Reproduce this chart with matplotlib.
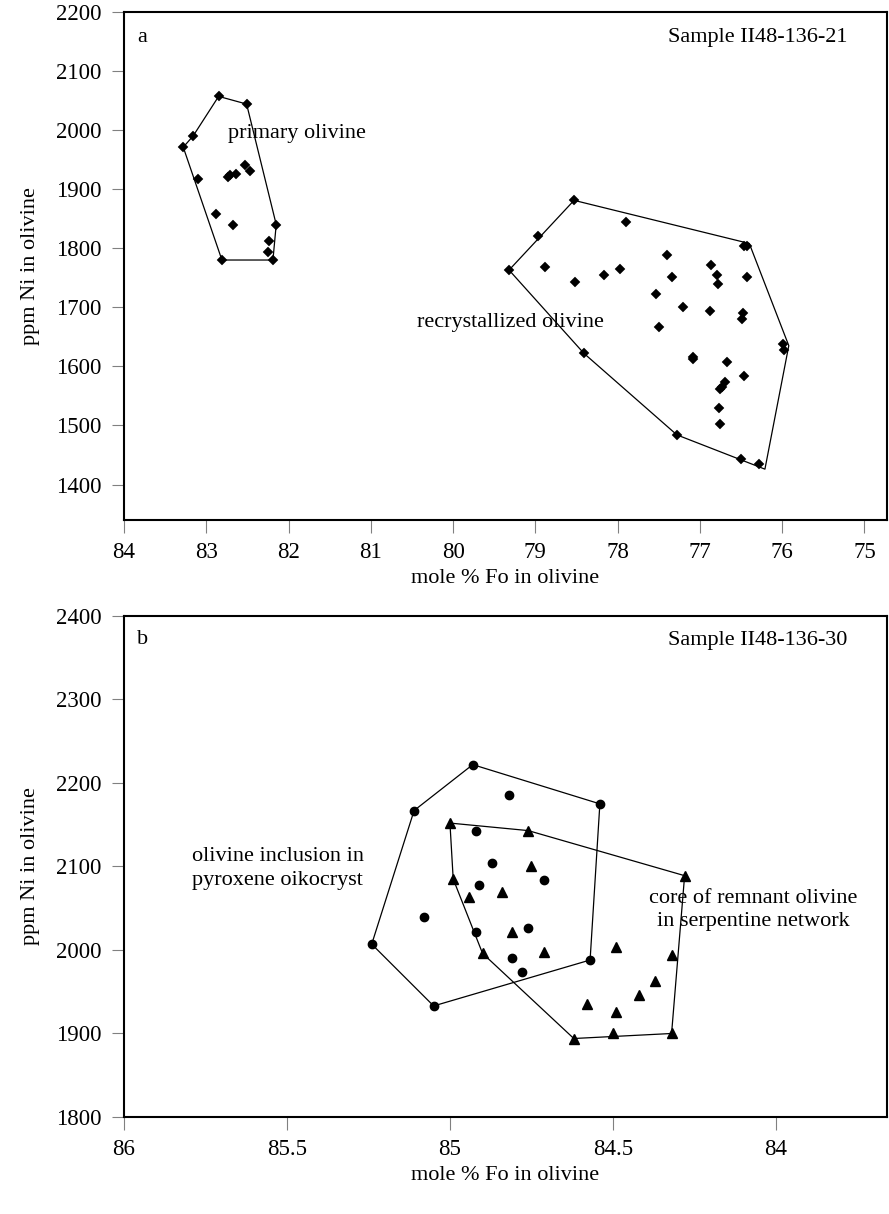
import matplotlib.pyplot as plt
from matplotlib.ticker import FuncFormatter

plt.rcParams['font.family'] = ['Liberation Serif', 'DejaVu Serif']
plt.rcParams['font.size'] = 16

### Panel a: Sample II48-136-21 ###
primary_fo = [82.85, 82.51, 83.16, 83.28, 83.10, 82.74, 82.71, 82.64, 82.53, 82.47,
              82.88, 82.68, 82.15, 82.24, 82.25, 82.19, 82.81]
primary_ni = [2057, 2044, 1990, 1971, 1917, 1920, 1924, 1925, 1941, 1931,
              1858, 1840, 1840, 1812, 1794, 1780, 1780]

recryst_fo = [78.53, 77.90, 78.97, 79.32, 78.88, 78.52, 78.16, 77.97, 77.40, 77.34,
              77.54, 77.20, 76.47, 76.43, 76.87, 76.79, 76.78, 76.43, 76.88, 76.48,
              76.49, 77.50, 78.41, 77.28, 75.99, 75.98, 77.09, 77.08, 76.67, 76.46,
              76.69, 76.76, 76.73, 76.77, 76.76, 76.50, 76.28]
recryst_ni = [1881, 1845, 1820, 1763, 1769, 1743, 1754, 1764, 1789, 1751,
              1722, 1701, 1803, 1804, 1772, 1755, 1739, 1751, 1694, 1690,
              1680, 1667, 1622, 1484, 1637, 1628, 1615, 1612, 1607, 1583,
              1574, 1561, 1565, 1529, 1503, 1444, 1434]

# outlines drawn round each group (as in the original figure)
primary_hull_fo = [82.85, 82.51, 82.15, 82.19, 82.81, 83.28, 83.16]
primary_hull_ni = [2057, 2044, 1840, 1780, 1780, 1971, 1990]
recryst_hull_fo = [79.32, 78.53, 76.40, 75.92, 76.21, 77.28, 78.41]
recryst_hull_ni = [1763, 1881, 1808, 1635, 1426, 1484, 1622]

### Panel b: Sample II48-136-30 ###
incl_fo = [84.93, 84.82, 85.11, 84.54, 84.92, 84.87, 84.71, 84.91, 85.08, 84.92,
           84.76, 84.81, 84.57, 84.78, 85.24, 85.05]
incl_ni = [2222, 2186, 2167, 2175, 2143, 2104, 2084, 2078, 2039, 2022,
           2026, 1991, 1988, 1974, 2007, 1933]

core_fo = [85.00, 84.76, 84.75, 84.99, 84.84, 84.94, 84.81, 84.90, 84.71, 84.49,
           84.32, 84.37, 84.42, 84.58, 84.49, 84.50, 84.32, 84.62, 84.28]
core_ni = [2152, 2143, 2101, 2085, 2070, 2063, 2021, 1996, 1998, 2004,
           1994, 1963, 1946, 1935, 1926, 1901, 1900, 1894, 2089]

incl_hull_fo = [84.93, 84.54, 84.57, 85.05, 85.24, 85.11]
incl_hull_ni = [2222, 2175, 1988, 1933, 2007, 2167]
core_hull_fo = [85.00, 84.76, 84.28, 84.32, 84.62, 84.90, 84.99]
core_hull_ni = [2152, 2143, 2089, 1900, 1894, 1996, 2085]

ticks_a_x = [84, 83, 82, 81, 80, 79, 78, 77, 76, 75]
ticks_a_y = [1400, 1500, 1600, 1700, 1800, 1900, 2000, 2100, 2200]
ticks_b_x = [86, 85.5, 85, 84.5, 84]
ticks_b_y = [1800, 1900, 2000, 2100, 2200, 2300, 2400]


def closed(xs, ys):
    return list(xs) + [xs[0]], list(ys) + [ys[0]]


def style_axes(ax):
    for sp in ax.spines.values():
        sp.set_linewidth(1.5)
        sp.set_color("black")
    ax.tick_params(direction="out", length=9, width=0.8, color="gray",
                   labelsize=16.5, pad=7)
    ax.tick_params(axis="y", pad=7)
    ax.xaxis.set_major_formatter(FuncFormatter(lambda v, p: "{:g}".format(v)))
    ax.set_xlabel("mole % Fo in olivine", fontsize=16, labelpad=4)
    ax.set_ylabel("ppm Ni in olivine", fontsize=16, labelpad=12)


fig = plt.figure(figsize=(8.89, 12.14), dpi=100)
ax1 = fig.add_axes([0.1395, 0.5717, 0.8579, 0.4185])
ax2 = fig.add_axes([0.1395, 0.0799, 0.8579, 0.4127])

# ---- panel a ----
hx, hy = closed(primary_hull_fo, primary_hull_ni)
ax1.plot(hx, hy, color="black", lw=0.9)
hx, hy = closed(recryst_hull_fo, recryst_hull_ni)
ax1.plot(hx, hy, color="black", lw=0.9)
ax1.plot(primary_fo, primary_ni, "D", color="black", ms=5, mew=0.3, ls="none")
ax1.plot(recryst_fo, recryst_ni, "D", color="black", ms=5, mew=0.3, ls="none")

ax1.set_xlim(84, 74.73)
ax1.set_ylim(1340, 2200)
ax1.set_xticks(ticks_a_x)
ax1.set_yticks(ticks_a_y)
style_axes(ax1)

ax1.text(82.74, 1995, "primary olivine", ha="left", va="center", fontsize=16)
ax1.text(80.44, 1675, "recrystallized olivine", ha="left", va="center", fontsize=16)
ax1.text(0.017, 0.949, "a", transform=ax1.transAxes, ha="left", va="center", fontsize=16)
ax1.text(0.949, 0.949, "Sample II48-136-21", transform=ax1.transAxes,
         ha="right", va="center", fontsize=16)

# ---- panel b ----
hx, hy = closed(incl_hull_fo, incl_hull_ni)
ax2.plot(hx, hy, color="black", lw=0.9)
hx, hy = closed(core_hull_fo, core_hull_ni)
ax2.plot(hx, hy, color="black", lw=0.9)
ax2.plot(incl_fo, incl_ni, "o", color="black", ms=6, ls="none")
ax2.plot(core_fo, core_ni, "^", color="black", ms=6.5, ls="none")

ax2.set_xlim(86, 83.66)
ax2.set_ylim(1800, 2400)
ax2.set_xticks(ticks_b_x)
ax2.set_yticks(ticks_b_y)
style_axes(ax2)

ax2.text(85.79, 2098, "olivine inclusion in\npyroxene oikocryst", ha="left", va="center",
         fontsize=16, linespacing=1.35)
ax2.text(84.07, 2048, "core of remnant olivine\nin serpentine network", ha="center",
         va="center", fontsize=16, linespacing=1.25)
ax2.text(0.017, 0.954, "b", transform=ax2.transAxes, ha="left", va="center", fontsize=16)
ax2.text(0.949, 0.952, "Sample II48-136-30", transform=ax2.transAxes,
         ha="right", va="center", fontsize=16)

fig.savefig("out.png", dpi=100)
